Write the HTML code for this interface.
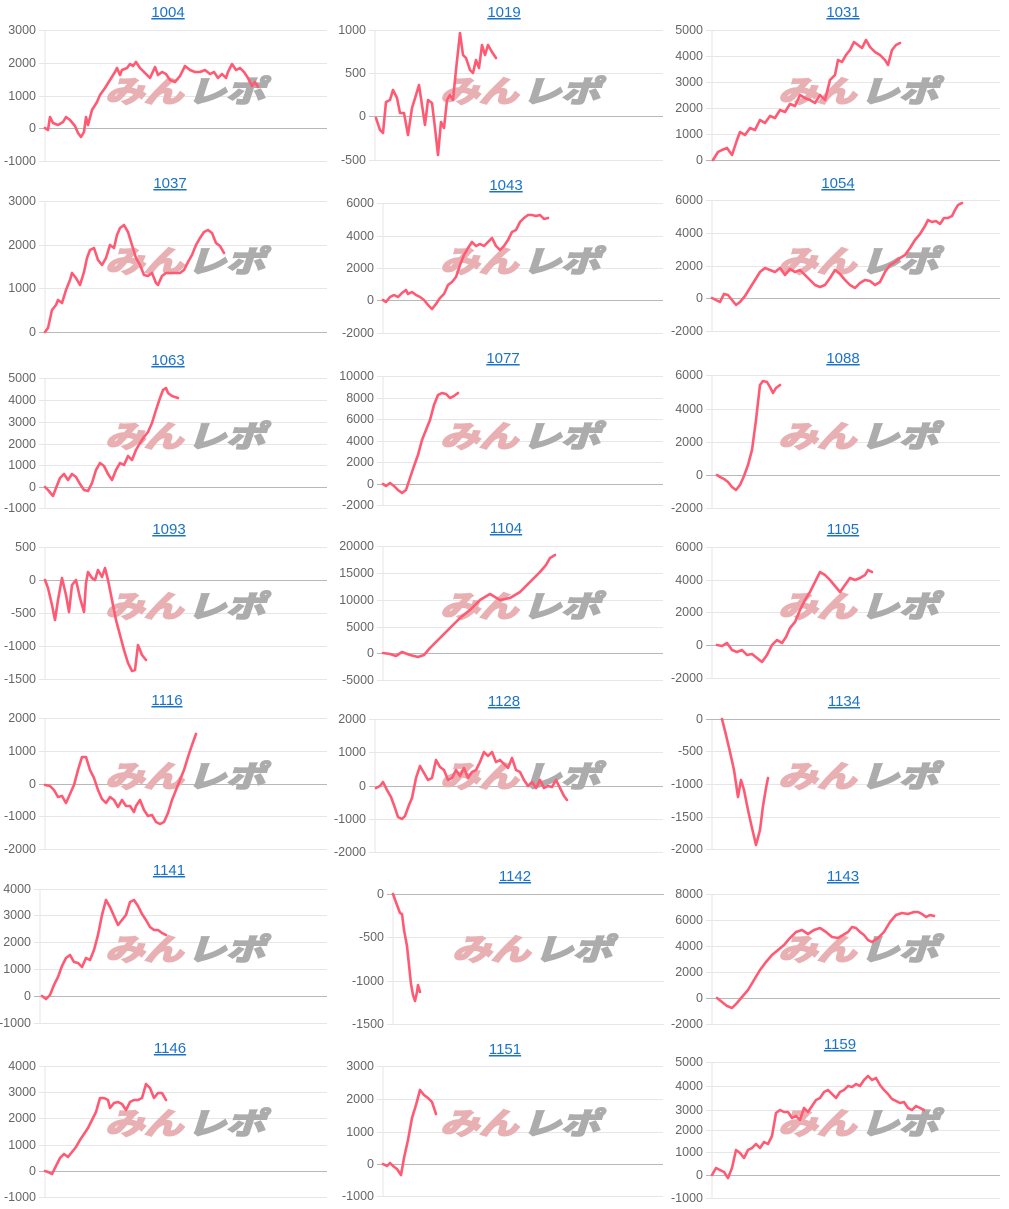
<!DOCTYPE html>
<html><head><meta charset="utf-8"><style>
html,body{margin:0;padding:0;background:#fff;}
svg{display:block;}
.t{font-family:"Liberation Sans",sans-serif;font-size:15px;fill:#1a73c8;text-decoration:underline;}
.k{font-family:"Liberation Sans",sans-serif;font-size:12.5px;fill:#666;}
.wm1{font-family:"Liberation Sans","Noto Sans CJK JP",sans-serif;font-size:30px;font-weight:bold;font-style:italic;fill:#e8b0b3;stroke:#e8b0b3;stroke-width:2;}
.wm2{font-family:"Liberation Sans","Noto Sans CJK JP",sans-serif;font-size:30px;font-weight:bold;font-style:italic;fill:#acacac;stroke:#acacac;stroke-width:2;}
</style></head><body>
<svg id="s" width="1009" height="1209" xmlns="http://www.w3.org/2000/svg">
<g id="g"></g>
</svg>
<script>
var C=[
{t:"1004",ty:12,cx:168,ax:45,r:327,wy:90,wx:105,tk:[["3000",30],["2000",63],["1000",96],["0",128],["-1000",161]],z:128,
p:[45,128,48,130,50,117,53,123,58,125,63,122,66,117,70,120,75,126,78,133,81,137,84,132,86,117,88,125,92,110,97,102,100,95,105,88,110,80,115,72,117,68,120,75,122,70,127,68,130,64,133,66,136,62,140,68,145,73,150,78,155,67,158,75,162,72,166,74,170,80,175,82,180,76,185,66,190,70,195,72,200,72,205,70,210,74,214,72,218,78,222,74,226,78,228,72,232,64,236,70,240,68,244,72,248,78,252,86,255,82,258,87]},
{t:"1019",ty:12,cx:504,ax:375,r:663,wy:90,wx:440,tk:[["1000",30],["500",73],["0",116],["-500",160]],z:116,
p:[376,118,380,130,383,133,386,102,390,100,393,90,397,98,400,113,404,113,408,135,412,108,416,95,419,85,422,105,425,125,428,100,432,103,435,128,438,155,441,122,444,128,447,100,450,95,453,100,456,70,460,33,463,55,466,58,470,70,473,73,476,60,479,68,482,45,485,55,488,45,492,52,496,58]},
{t:"1031",ty:12,cx:843,ax:712,r:1000,wy:90,wx:778,tk:[["5000",30],["4000",56],["3000",82],["2000",108],["1000",134],["0",160]],z:160,
p:[713,160,718,152,722,150,727,148,732,155,737,140,740,132,745,135,750,128,755,130,760,120,765,123,770,116,775,118,780,110,785,112,790,104,795,106,800,95,805,98,810,100,815,103,820,95,825,100,830,80,835,75,838,60,842,62,846,55,850,50,854,42,858,45,862,48,866,40,870,47,875,52,880,55,885,60,888,65,892,50,896,45,900,43]},
{t:"1037",ty:183,cx:170,ax:45,r:327,wy:260,wx:105,tk:[["3000",201],["2000",245],["1000",288],["0",332]],z:332,
p:[45,332,48,328,52,310,56,305,58,300,62,303,66,290,70,280,72,273,76,278,80,285,84,272,87,258,90,250,94,248,98,260,102,265,106,258,110,245,114,248,117,235,120,228,124,225,128,232,132,245,136,258,140,265,144,275,148,276,152,273,156,283,158,285,162,276,166,273,170,273,175,273,180,273,184,270,188,262,192,255,196,245,200,238,204,232,208,230,212,233,216,243,220,246,224,253]},
{t:"1043",ty:185,cx:506,ax:383,r:663,wy:260,wx:440,tk:[["6000",203],["4000",236],["2000",268],["0",300],["-2000",333]],z:300,
p:[383,300,386,302,390,297,394,295,398,297,402,293,406,290,408,294,412,292,416,295,420,297,424,300,428,305,432,309,436,304,440,298,444,294,448,285,452,282,456,277,460,265,464,255,468,248,472,242,476,246,480,244,484,246,488,242,492,238,496,246,500,250,504,246,508,240,512,232,516,230,520,222,524,218,528,215,532,215,536,216,540,215,544,219,548,218]},
{t:"1054",ty:183,cx:838,ax:712,r:1000,wy:260,wx:778,tk:[["6000",200],["4000",233],["2000",266],["0",298],["-2000",331]],z:298,
p:[712,298,716,300,720,302,724,294,728,295,732,300,736,305,740,302,745,296,750,288,755,280,760,272,765,268,770,270,775,272,780,268,785,275,790,269,795,272,800,270,805,275,810,280,815,285,820,287,825,285,830,278,835,270,840,274,845,280,850,285,855,288,860,283,865,280,870,281,875,285,880,282,885,272,890,265,895,262,900,258,905,255,910,248,915,240,920,234,925,226,928,220,932,222,936,221,940,224,944,218,948,218,952,216,955,210,958,205,962,203]},
{t:"1063",ty:360,cx:168,ax:45,r:327,wy:435,wx:105,tk:[["5000",378],["4000",400],["3000",422],["2000",444],["1000",465],["0",487],["-1000",508]],z:487,
p:[45,487,48,490,53,496,56,488,60,478,64,474,68,480,72,474,76,477,80,484,84,490,88,491,92,483,96,470,100,463,104,466,108,474,112,480,116,470,120,463,124,465,128,456,132,460,136,450,140,443,144,437,148,432,152,423,156,410,160,398,163,390,166,388,168,393,172,396,178,398]},
{t:"1077",ty:358,cx:503,ax:383,r:663,wy:435,wx:440,tk:[["10000",376],["8000",398],["6000",419],["4000",441],["2000",462],["0",484],["-2000",505]],z:484,
p:[383,484,386,486,390,483,394,486,398,490,402,493,406,490,410,478,414,466,418,455,422,440,426,430,430,420,434,405,438,395,442,393,446,394,450,398,454,396,458,393]},
{t:"1088",ty:358,cx:843,ax:712,r:1000,wy:435,wx:778,tk:[["6000",375],["4000",409],["2000",442],["0",475],["-2000",508]],z:475,
p:[717,475,720,477,724,479,728,482,732,487,736,490,740,485,744,476,748,465,752,450,756,420,760,385,763,381,767,382,770,387,773,393,776,388,780,385]},
{t:"1093",ty:529,cx:169,ax:45,r:327,wy:605,wx:105,tk:[["500",547],["0",580],["-500",613],["-1000",646],["-1500",679]],z:580,
p:[45,580,48,588,52,605,55,620,58,600,62,578,66,595,69,612,72,585,76,580,80,598,84,612,86,583,88,572,92,578,95,580,98,570,102,577,105,568,108,580,112,600,116,620,120,635,124,650,128,663,132,671,135,670,138,645,142,655,146,660]},
{t:"1104",ty:528,cx:506,ax:383,r:663,wy:605,wx:440,tk:[["20000",546],["15000",573],["10000",600],["5000",627],["0",653],["-5000",680]],z:653,
p:[383,653,390,654,396,656,402,652,410,655,418,657,424,655,430,648,440,638,450,628,460,618,470,610,480,600,490,594,500,600,510,598,520,592,530,582,540,572,546,565,550,558,555,555]},
{t:"1105",ty:529,cx:843,ax:712,r:1000,wy:605,wx:778,tk:[["6000",547],["4000",580],["2000",612],["0",645],["-2000",678]],z:645,
p:[717,645,722,646,727,643,732,650,737,652,742,650,747,655,752,654,757,658,762,662,767,655,772,645,777,640,782,643,786,637,790,628,795,622,800,610,805,600,810,592,815,582,820,572,825,575,830,580,835,586,840,592,845,585,850,578,855,580,860,578,865,575,868,570,872,572]},
{t:"1116",ty:700,cx:167,ax:45,r:327,wy:775,wx:105,tk:[["2000",718],["1000",751],["0",784],["-1000",816],["-2000",849]],z:784,
p:[45,785,50,786,54,790,58,797,62,796,66,803,70,794,74,785,78,770,82,757,86,757,90,770,94,778,98,790,102,799,106,803,110,797,114,800,118,807,122,800,126,806,130,806,134,812,136,806,140,800,144,810,148,816,152,815,156,822,160,824,164,822,168,813,172,800,176,790,180,780,184,770,188,757,192,745,196,734]},
{t:"1128",ty:701,cx:504,ax:375,r:663,wy:775,wx:440,tk:[["2000",719],["1000",752],["0",786],["-1000",819],["-2000",852]],z:786,
p:[376,788,380,786,383,782,387,790,391,797,395,808,398,817,402,819,405,816,409,805,412,798,416,778,420,766,424,773,428,780,432,778,436,760,440,767,444,770,448,780,452,778,456,770,460,776,464,768,468,778,472,772,476,770,480,762,484,752,488,756,492,752,496,762,500,760,504,764,508,768,512,758,516,770,520,772,524,780,528,786,532,782,536,788,540,780,544,788,548,786,552,787,556,780,560,788,564,796,567,800]},
{t:"1134",ty:701,cx:844,ax:712,r:1000,wy:775,wx:778,tk:[["0",719],["-500",751],["-1000",784],["-1500",817],["-2000",849]],z:719,
p:[722,719,726,735,730,752,734,770,738,797,741,780,744,790,748,810,752,828,756,845,760,830,763,806,766,788,768,778]},
{t:"1141",ty:870,cx:169,ax:40,r:327,wy:948,wx:105,tk:[["4000",889],["3000",915],["2000",942],["1000",969],["0",996],["-1000",1023]],z:996,
p:[42,996,46,999,50,995,54,985,58,977,62,966,66,958,70,955,74,962,78,963,82,967,86,958,90,960,94,950,98,935,102,915,106,900,110,907,114,916,118,925,122,920,126,915,130,902,134,900,138,906,142,914,146,920,150,927,154,930,158,930,162,933,166,935]},
{t:"1142",ty:876,cx:515,ax:393,r:664,wy:948,wx:452,tk:[["0",894],["-500",937],["-1000",981],["-1500",1024]],z:894,
p:[393,894,397,905,400,913,402,914,404,930,407,946,409,965,411,984,413,995,415,1001,417,992,418,985,420,992]},
{t:"1143",ty:876,cx:843,ax:712,r:1000,wy:948,wx:778,tk:[["8000",894],["6000",920],["4000",946],["2000",972],["0",998],["-2000",1024]],z:998,
p:[717,998,722,1002,727,1006,732,1008,737,1003,742,997,748,990,754,980,760,970,766,962,772,955,778,950,784,945,790,938,796,932,802,930,808,934,814,930,820,928,826,932,832,937,838,938,843,935,848,932,852,927,856,928,860,932,864,935,868,940,872,942,878,938,884,932,890,922,896,915,902,913,908,914,914,912,918,912,922,914,926,917,930,915,934,916]},
{t:"1146",ty:1048,cx:170,ax:45,r:327,wy:1122,wx:105,tk:[["4000",1066],["3000",1092],["2000",1118],["1000",1145],["0",1171],["-1000",1197]],z:1171,
p:[45,1171,48,1172,52,1174,56,1166,60,1158,64,1154,68,1157,72,1152,76,1147,80,1140,84,1134,88,1128,92,1120,96,1112,100,1098,104,1098,108,1100,110,1108,114,1103,118,1102,122,1104,126,1110,130,1102,134,1100,138,1100,142,1098,146,1084,150,1088,154,1098,158,1093,162,1093,166,1100]},
{t:"1151",ty:1049,cx:505,ax:383,r:663,wy:1122,wx:440,tk:[["3000",1066],["2000",1099],["1000",1132],["0",1164],["-1000",1196]],z:1164,
p:[383,1164,387,1166,390,1163,393,1166,397,1169,401,1175,404,1158,408,1140,412,1118,416,1105,420,1090,424,1095,428,1098,432,1102,436,1114]},
{t:"1159",ty:1044,cx:840,ax:712,r:1000,wy:1122,wx:778,tk:[["5000",1062],["4000",1086],["3000",1110],["2000",1130],["1000",1152],["0",1175],["-1000",1198]],z:1175,
p:[712,1175,716,1168,720,1170,724,1172,728,1178,732,1168,736,1150,740,1153,744,1158,748,1150,752,1148,756,1144,760,1148,764,1142,768,1144,772,1136,776,1113,780,1110,784,1112,788,1112,792,1118,796,1116,800,1120,804,1108,808,1112,812,1106,816,1100,820,1098,824,1092,828,1090,832,1094,836,1098,840,1092,844,1090,848,1086,852,1087,856,1084,860,1086,864,1080,868,1076,872,1080,876,1078,880,1085,884,1090,888,1094,892,1099,896,1101,900,1103,904,1102,908,1108,912,1110,916,1106,920,1108,924,1110]}
];
var h="";
C.forEach(function(c){
 h+='<text class="t" x="'+c.cx+'" y="'+(c.ty+5)+'" text-anchor="middle">'+c.t+'</text>';
 var top=c.tk[0][1],bot=c.tk[c.tk.length-1][1];
 h+='<line x1="'+c.ax+'" y1="'+top+'" x2="'+c.ax+'" y2="'+bot+'" stroke="#e4e4e4" stroke-width="1"/>';
 c.tk.forEach(function(k){
  var col=(k[1]==c.z)?"#b8b8b8":"#e6e6e6";
  h+='<line x1="'+(c.ax-6)+'" y1="'+k[1]+'.5" x2="'+c.r+'" y2="'+k[1]+'.5" stroke="'+col+'" stroke-width="1"/>';
  h+='<text class="k" x="'+(c.ax-9)+'" y="'+(k[1]+4)+'" text-anchor="end">'+k[0]+'</text>';
 });
 h+='<text class="wm1" x="'+c.wx+'" y="'+(c.wy+12)+'" textLength="78" lengthAdjust="spacingAndGlyphs">みん</text>';
 h+='<text class="wm2" x="'+(c.wx+82)+'" y="'+(c.wy+12)+'" textLength="78" lengthAdjust="spacingAndGlyphs">レポ</text>';
 var pts=[];for(var i=0;i<c.p.length;i+=2)pts.push(c.p[i]+','+c.p[i+1]);
 h+='<polyline points="'+pts.join(' ')+'" fill="none" stroke="#ff5a73" stroke-width="2.6" stroke-linejoin="round" stroke-linecap="round"/>';
});
document.getElementById("g").innerHTML=h;
</script>
</body></html>
